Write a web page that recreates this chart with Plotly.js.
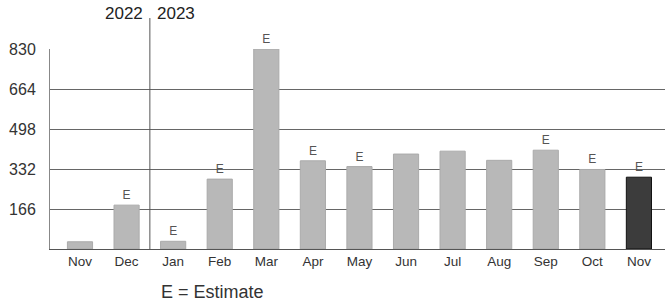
<!DOCTYPE html>
<html>
<head>
<meta charset="utf-8">
<script src="https://cdn.plot.ly/plotly-3.0.1.min.js"></script>
<style>html,body{margin:0;padding:0;background:#fff;}#chart{width:665px;height:304px;}</style>
</head>
<body>
<div id="chart"></div>
<script>
const months = ['Nov', 'Dec', 'Jan', 'Feb', 'Mar', 'Apr', 'May', 'Jun', 'Jul', 'Aug', 'Sep', 'Oct', 'Nov'];
const values = [30, 182, 32, 290, 830, 366, 342, 394, 406, 368, 410, 330, 298];
const estimateFlags = ['', 'E', 'E', 'E', 'E', 'E', 'E', '', '', '', 'E', 'E', 'E'];
const barColors = ['#b8b8b8', '#b8b8b8', '#b8b8b8', '#b8b8b8', '#b8b8b8', '#b8b8b8', '#b8b8b8', '#b8b8b8', '#b8b8b8', '#b8b8b8', '#b8b8b8', '#b8b8b8', '#3c3c3c'];
const yTicks = [166, 332, 498, 664, 830];
const yearLabels = ['2022', '2023'];

const idx = months.map((m, i) => i);
const font = 'Liberation Sans, Arial, sans-serif';

const trace = {
  type: 'bar',
  x: idx,
  y: values,
  width: 0.54,
  marker: {color: barColors, line: {color: barColors.map((c, i) => i === 12 ? '#111' : '#aaaaaa'), width: 1}},
  text: estimateFlags,
  textposition: 'outside',
  textfont: {family: font, size: 12, color: '#555'},
  cliponaxis: false,
  hoverinfo: 'skip'
};

const layout = {
  width: 665, height: 304,
  margin: {l: 50, r: 0, t: 49, b: 55},
  paper_bgcolor: '#fff', plot_bgcolor: '#fff',
  showlegend: false,
  font: {family: font, color: '#333'},
  xaxis: {
    range: [-0.644, 12.56],
    tickvals: idx, ticktext: months,
    tickfont: {family: font, size: 13.5, color: '#333'},
    showgrid: false, zeroline: false,
    showline: true, linecolor: '#555', linewidth: 1,
    ticks: '', fixedrange: true
  },
  yaxis: {
    range: [0, 830],
    tickvals: yTicks, ticktext: yTicks.map(String),
    tickfont: {family: font, size: 16, color: '#333'},
    showgrid: true, gridcolor: '#666', gridwidth: 1,
    zeroline: false, showline: true, linecolor: '#888', linewidth: 1,
    ticks: '', ticklabelstandoff: 10, fixedrange: true
  },
  shapes: [{
    type: 'line', xref: 'x', yref: 'paper',
    x0: 1.5, x1: 1.5, y0: 0, y1: 1.155,
    line: {color: '#555', width: 1}
  }],
  annotations: [
    {xref: 'x', yref: 'paper', x: 1.4, y: 1.175, text: yearLabels[0], showarrow: false, xanchor: 'right', yanchor: 'middle', font: {family: font, size: 17, color: '#222'}},
    {xref: 'x', yref: 'paper', x: 1.6, y: 1.175, text: yearLabels[1], showarrow: false, xanchor: 'left', yanchor: 'middle', font: {family: font, size: 17, color: '#222'}},
    {xref: 'paper', yref: 'paper', x: 0.265, y: -0.215, text: 'E = Estimate', showarrow: false, xanchor: 'center', yanchor: 'middle', font: {family: font, size: 18, color: '#333'}}
  ]
};

Plotly.newPlot('chart', [trace], layout, {displayModeBar: false, staticPlot: true});
</script>
</body>
</html>
